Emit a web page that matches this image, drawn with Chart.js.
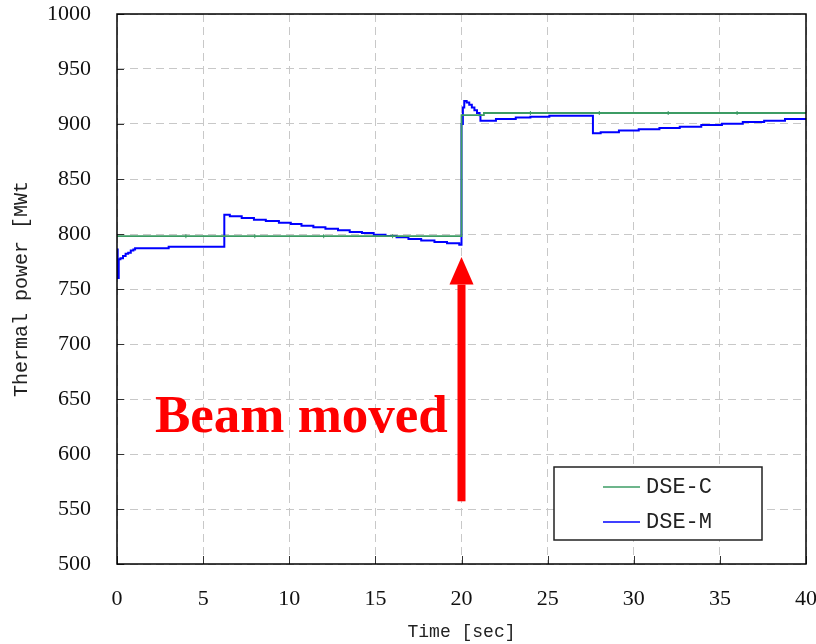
<!DOCTYPE html>
<html>
<head>
<meta charset="utf-8">
<script src="https://cdn.jsdelivr.net/npm/chart.js@4.4.1/dist/chart.umd.min.js"></script>
<style>
  html, body { margin: 0; padding: 0; background: #fff; }
  #chart { display: block; }
</style>
</head>
<body>
<canvas id="chart" width="816" height="644"></canvas>
<script>
// axis ticks
const timeTicks = [0, 5, 10, 15, 20, 25, 30, 35, 40];
const powerTicks = [500, 550, 600, 650, 700, 750, 800, 850, 900, 950, 1000];

// DSE-C (step points, value held until next time)
const dsecTime  = [0, 4, 8, 12, 16, 20, 21.3, 24, 28, 32, 36, 40];
const dsecPower = [798, 798, 798, 798, 798, 908, 910, 910, 910, 910, 910, 910];

// DSE-M (step points)
const dsemTime = [0, 0.04, 0.1, 0.2, 0.35, 0.5, 0.65, 0.8, 0.95, 1.05, 3.0, 6.23,
  6.55, 7.24, 7.95, 8.64, 9.40, 10.09, 10.71, 11.40, 12.10, 12.83, 13.51, 14.22,
  14.90, 15.59, 16.23, 16.92, 17.66, 18.43, 19.16, 19.87,
  20.0, 20.08, 20.16, 20.3, 20.45, 20.6, 20.75, 20.9, 21.05, 21.1,
  22.0, 23.15, 24.0, 25.1, 27.63, 28.08, 29.14, 30.29, 31.49, 32.67, 33.92,
  35.12, 36.33, 37.57, 38.78, 40];
const dsemPower = [786, 760, 777, 778, 780, 782, 783, 785, 786, 787, 788.5, 817.5,
  816.1, 814.5, 813.0, 811.8, 810.3, 809.1, 807.6, 806.1, 804.8, 803.3, 801.8, 800.9,
  799.4, 798.2, 797.0, 795.5, 794.2, 792.7, 791.5, 790.3,
  900, 915, 921, 919.5, 917.5, 915, 912.5, 910, 908, 903,
  904.5, 906, 906.5, 907.6, 891.5, 892.4, 894, 895.2, 896.4, 897.6, 899.1,
  900.3, 901.8, 903.0, 904.5, 904.5];

// annotation anchors (data units)
const arrowAt = { t: 20, from: 557, headBase: 754, to: 779 };
const labelAt = { t: 2.2, v: 620 };

const serif = "'Liberation Serif', 'Times New Roman', serif";
const mono = "'Liberation Mono', 'Courier New', monospace";

const toPoints = (xs, ys) => xs.map((x, i) => ({ x, y: ys[i] }));

const extras = {
  id: 'extras',
  afterDatasetsDraw(chart) {
    const { ctx, chartArea: a } = chart;
    const xs = chart.scales.x, ys = chart.scales.y;
    ctx.save();

    // inward tick marks
    ctx.strokeStyle = '#333';
    ctx.lineWidth = 1;
    ctx.beginPath();
    powerTicks.forEach(v => {
      const y = Math.round(ys.getPixelForValue(v)) + 0.5;
      ctx.moveTo(a.left, y); ctx.lineTo(a.left + 7, y);
    });
    timeTicks.forEach(v => {
      const x = Math.round(xs.getPixelForValue(v)) + 0.5;
      ctx.moveTo(x, a.bottom); ctx.lineTo(x, a.bottom - 8);
    });
    ctx.stroke();

    // frame
    ctx.strokeStyle = '#000';
    ctx.lineWidth = 1.5;
    ctx.strokeRect(a.left, a.top, a.right - a.left, a.bottom - a.top);

    // arrow
    const x = xs.getPixelForValue(arrowAt.t);
    const yTail = ys.getPixelForValue(arrowAt.from);
    const yBase = ys.getPixelForValue(arrowAt.headBase);
    const yTip = ys.getPixelForValue(arrowAt.to);
    ctx.fillStyle = '#ff0000';
    ctx.fillRect(x - 4, yBase, 8, yTail - yBase);
    ctx.beginPath();
    ctx.moveTo(x - 12, yBase);
    ctx.lineTo(x + 12, yBase);
    ctx.lineTo(x, yTip);
    ctx.closePath();
    ctx.fill();

    // label
    ctx.font = 'bold 53px ' + serif;
    ctx.textAlign = 'left';
    ctx.textBaseline = 'alphabetic';
    ctx.fillText('Beam moved', xs.getPixelForValue(labelAt.t), ys.getPixelForValue(labelAt.v));

    // legend box
    const lx = a.right - 252, ly = a.bottom - 97;
    ctx.fillStyle = '#fff';
    ctx.fillRect(lx, ly, 208, 73);
    ctx.strokeStyle = '#222';
    ctx.lineWidth = 1.5;
    ctx.strokeRect(lx, ly, 208, 73);
    ctx.font = '22px ' + mono;
    ctx.textBaseline = 'middle';
    chart.data.datasets.forEach((ds, i) => {
      const ry = ly + 20 + i * 35;
      ctx.strokeStyle = ds.borderColor;
      ctx.lineWidth = 1.5;
      ctx.beginPath();
      ctx.moveTo(lx + 49, ry); ctx.lineTo(lx + 86, ry);
      ctx.stroke();
      ctx.fillStyle = '#222';
      ctx.fillText(ds.label, lx + 92, ry);
    });
    ctx.restore();
  }
};

new Chart(document.getElementById('chart'), {
  type: 'line',
  data: {
    datasets: [
      {
        label: 'DSE-C',
        data: toPoints(dsecTime, dsecPower),
        borderColor: '#3c9c64',
        borderWidth: 1.8,
        stepped: true,
        pointStyle: 'line',
        rotation: 90,
        pointBorderColor: '#3c9c64',
        pointBorderWidth: 1,
        pointRadius: c => {
          const t = dsecTime[c.dataIndex];
          return (t % 4 === 0 && t > 0 && t < 40 && t !== 20) ? 2 : 0;
        }
      },
      {
        label: 'DSE-M',
        data: toPoints(dsemTime, dsemPower),
        borderColor: '#0000ff',
        borderWidth: 2,
        stepped: true,
        pointRadius: 0
      }
    ]
  },
  options: {
    responsive: false,
    animation: false,
    devicePixelRatio: 1,
    layout: { padding: { top: 14, right: 10, left: 0, bottom: 0 } },
    plugins: { legend: { display: false }, tooltip: { enabled: false } },
    scales: {
      x: {
        type: 'linear',
        min: 0, max: 40,
        afterBuildTicks: s => { s.ticks = timeTicks.map(v => ({ value: v })); },
        afterFit: s => { s.height = 80; s.paddingLeft = 0; s.paddingRight = 0; },
        grid: { color: '#c8c8c8', lineWidth: 1, drawTicks: false },
        border: { display: false, dash: [8, 5] },
        ticks: { font: { family: serif, size: 22 }, color: '#111', padding: 22, maxRotation: 0, callback: v => String(v) },
        title: { display: true, text: 'Time [sec]', font: { family: mono, size: 18 }, color: '#222', padding: { top: 0, bottom: 1 } }
      },
      y: {
        min: 500, max: 1000,
        afterBuildTicks: s => { s.ticks = powerTicks.map(v => ({ value: v })); },
        afterFit: s => { s.width = 117; s.paddingTop = 0; s.paddingBottom = 0; },
        grid: { color: '#c8c8c8', lineWidth: 1, drawTicks: false },
        border: { display: false, dash: [8, 5] },
        ticks: { font: { family: serif, size: 22 }, color: '#111', padding: 26, callback: v => String(v) },
        title: { display: true, text: 'Thermal power [MWt', font: { family: mono, size: 20 }, color: '#222', padding: { top: 10, bottom: 0 } }
      }
    }
  },
  plugins: [extras]
});
</script>
</body>
</html>
